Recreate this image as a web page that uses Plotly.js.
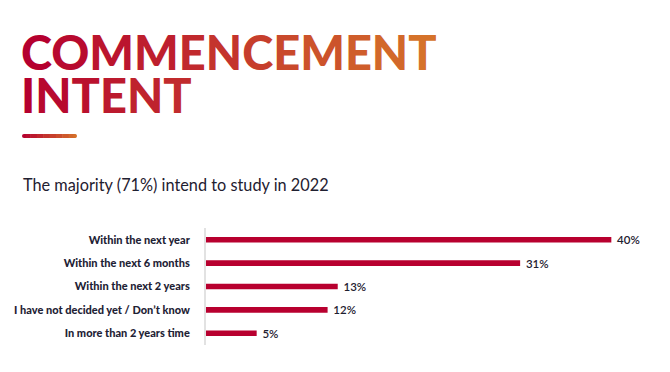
<!DOCTYPE html>
<html>
<head>
<meta charset="utf-8">
<script src="https://cdn.plot.ly/plotly-3.0.1.min.js"></script>
<style>html,body{margin:0;padding:0;background:#fff;}#chart{width:670px;height:372px;}</style>
</head>
<body>
<div id="chart"></div>
<script>
const categories = ["Within the next year","Within the next 6 months","Within the next 2 years","I have not decided yet / Don\u2019t know","In more than 2 years time"];
const values = [40, 31, 13, 12, 5];
const titleLine1 = "COMMENCEMENT";
const titleLine2 = "INTENT";
const subtitle = "The majority (71%) intend to study in 2022";

const W = 670, H = 372;
const ml = 206, mr = 8, mt = 228, mb = 27;
const pw = W - ml - mr, ph = H - mt - mb;
const px = x => (x - ml) / pw;
const py = y => ((H - mb) - y) / ph;

const c0 = [181, 0, 47], c1 = [213, 114, 42];
function mix(f) {
  return 'rgb(' + c0.map((v, i) => Math.round(v + (c1[i] - v) * f)).join(',') + ')';
}
function gradText(s, fStart, fEnd) {
  const n = s.length;
  return s.split('').map((ch, i) => {
    const f = fStart + (fEnd - fStart) * (n === 1 ? 0 : i / (n - 1));
    return '<span style="color:' + mix(f) + '">' + ch + '</span>';
  }).join('');
}

const titleFont = {family: 'Lato', size: 47, weight: 900};

const shapes = [];
const segN = 8, ux0 = 24, ux1 = 75;
for (let i = 0; i < segN; i++) {
  const a = ux0 + (ux1 - ux0) * i / segN, b = ux0 + (ux1 - ux0) * (i + 1) / segN;
  shapes.push({type: 'line', xref: 'paper', yref: 'paper', x0: px(a), x1: px(b + 0.5), y0: py(136), y1: py(136),
    line: {color: mix(0.05 + 0.9 * (i + 0.5) / segN), width: 4}});
}
shapes.push({type:'circle', xref:'paper', yref:'paper', x0: px(22), x1: px(26), y0: py(134), y1: py(138), fillcolor: mix(0.02), line:{width:0}});
shapes.push({type:'circle', xref:'paper', yref:'paper', x0: px(73), x1: px(77), y0: py(134), y1: py(138), fillcolor: mix(0.98), line:{width:0}});

const data = [{
  type: 'bar',
  orientation: 'h',
  y: categories,
  x: values,
  marker: {color: '#b8002f'},
  width: 0.24,
  text: values.map(v => '\u2002' + v + '%'),
  textposition: 'outside',
  constraintext: 'none',
  cliponaxis: false,
  textfont: {family: 'Lato', size: 11.5, color: '#1e2030', weight: 600},
  hoverinfo: 'skip'
}];

const layout = {
  width: W, height: H,
  margin: {l: ml, r: mr, t: mt, b: mb},
  paper_bgcolor: '#ffffff', plot_bgcolor: '#ffffff',
  showlegend: false,
  xaxis: {range: [0, 45], visible: false, fixedrange: true},
  yaxis: {
    autorange: 'reversed',
    showline: true, linecolor: '#e2e2e2', linewidth: 2,
    showgrid: false, zeroline: false, ticks: '',
    ticklabelstandoff: 12,
    tickfont: {family: 'Lato', size: 11, color: '#1e2235', weight: 900}
  },
  shapes: shapes,
  annotations: [
    {xref:'paper', yref:'paper', x: px(19), y: py(52), xanchor:'left', yanchor:'middle', showarrow:false,
     height: 40, valign: 'middle',
     text: gradText(titleLine1, 0, 1), font: titleFont},
    {xref:'paper', yref:'paper', x: px(19), y: py(95), xanchor:'left', yanchor:'middle', showarrow:false,
     height: 40, valign: 'middle',
     text: gradText(titleLine2, 0, 0.38), font: titleFont},
    {xref:'paper', yref:'paper', x: px(21), y: py(184), xanchor:'left', yanchor:'middle', showarrow:false,
     text: subtitle, font: {family: 'Lato', size: 16.3, color: '#1f2030'}}
  ]
};

Plotly.newPlot('chart', data, layout, {displayModeBar: false, staticPlot: true});
</script>
</body>
</html>
